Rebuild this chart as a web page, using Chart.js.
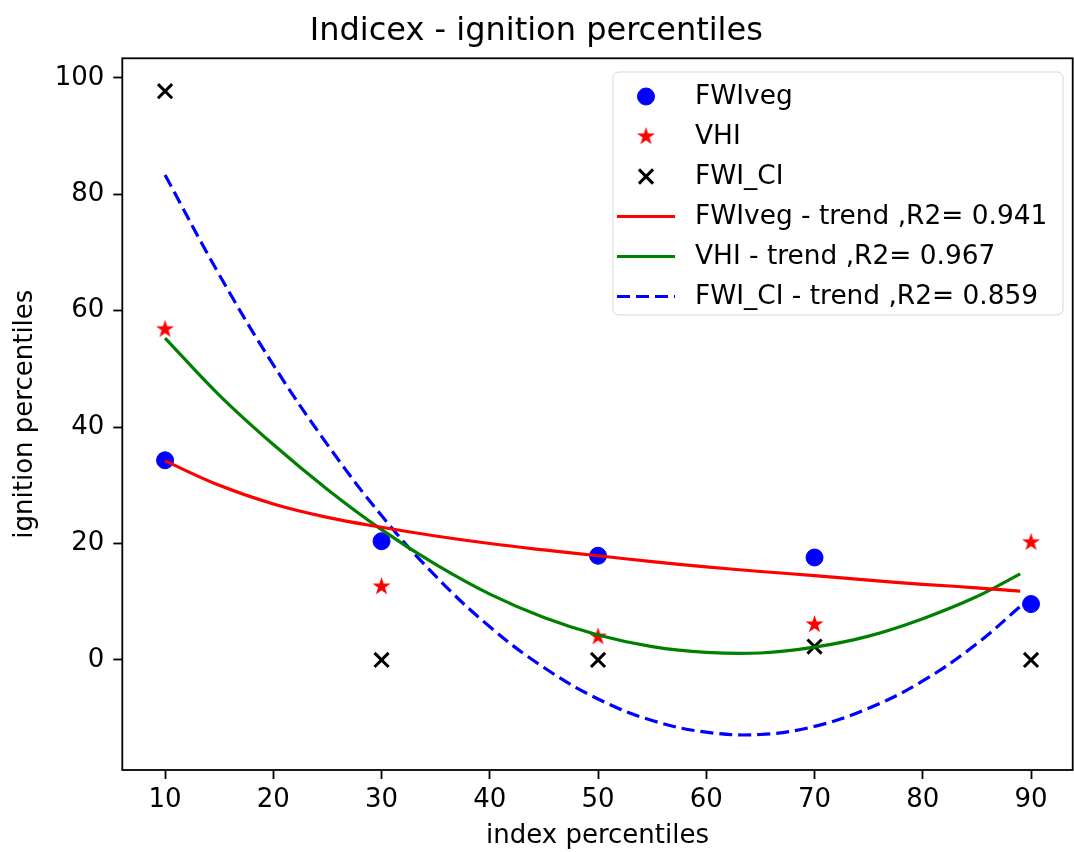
<!DOCTYPE html>
<html lang="en">
<head>
<meta charset="UTF-8">
<title>Indicex - ignition percentiles</title>
<script src="https://cdn.jsdelivr.net/npm/chart.js"></script>
<style>
  html, body { margin: 0; padding: 0; background: #fff; overflow: hidden; }
</style>
</head>
<body>
<canvas id="chart" width="1074" height="852"></canvas>
<script>
// observed values per index percentile class
const xPoints = [10, 30, 50, 70, 90];
const fwivegValues = [34.3, 20.4, 17.9, 17.6, 9.6];
const vhiValues = [56.8, 12.6, 4.0, 6.1, 20.2];
const fwiciValues = [97.7, 0, 0, 2.3, 0];

// trend curves, every 5 units
const xTrend = [10, 15, 20, 25, 30, 35, 40, 45, 50, 55, 60, 65, 70, 75, 80, 85, 89];
const fwivegTrend = [34.2, 30.0, 26.8, 24.5, 22.8, 21.3, 20.0, 18.9, 17.9, 16.9, 16.0, 15.2, 14.5, 13.7, 13.0, 12.4, 11.8];
const vhiTrend = [55.3, 45.5, 37.0, 29.3, 22.4, 16.4, 11.3, 7.3, 4.3, 2.3, 1.3, 1.2, 2.2, 4.1, 7.1, 10.9, 14.8];
const fwiciTrend = [83.3, 66.2, 50.7, 37.0, 24.8, 14.4, 5.7, -1.3, -6.7, -10.4, -12.4, -12.8, -11.4, -8.3, -3.6, 2.8, 9.2];

const xTicks = [10, 20, 30, 40, 50, 60, 70, 80, 90];
const yTicks = [0, 20, 40, 60, 80, 100];

function pairs(xs, ys) {
    return xs.map((x, i) => ({x: x, y: ys[i]}));
}

// filled five-pointed star, like the matplotlib '*' marker
function starImage(color, r) {
    const c = document.createElement('canvas');
    const size = Math.ceil(r * 2 + 4);
    c.width = size;
    c.height = size;
    const g = c.getContext('2d');
    const cx = size / 2, cy = size / 2, inner = r * 0.382;
    g.beginPath();
    for (let k = 0; k < 10; k++) {
        const rad = (k % 2 === 0) ? r : inner;
        const ang = -Math.PI / 2 + k * Math.PI / 5;
        const px = cx + rad * Math.cos(ang), py = cy + rad * Math.sin(ang);
        if (k === 0) g.moveTo(px, py); else g.lineTo(px, py);
    }
    g.closePath();
    g.fillStyle = color;
    g.fill();
    return c;
}

const star = starImage('#ff0000', 9.5);

Chart.defaults.font.family = '"DejaVu Sans", sans-serif';
Chart.defaults.color = '#000';

const frameAndLegend = {
    id: 'frameAndLegend',
    afterDatasetsDraw(chart) {
        const ctx = chart.ctx, a = chart.chartArea;
        ctx.save();
        ctx.strokeStyle = '#000';
        ctx.lineWidth = 1.8;
        ctx.strokeRect(a.left, a.top, a.right - a.left, a.bottom - a.top);

        // legend box, upper right inside the axes
        ctx.beginPath();
        ctx.roundRect(613, 72, 450, 243, 6);
        ctx.fillStyle = 'rgba(255,255,255,0.8)';
        ctx.fill();
        ctx.strokeStyle = 'rgba(204,204,204,0.8)';
        ctx.lineWidth = 1;
        ctx.stroke();

        chart.data.datasets.forEach((ds, i) => {
            const y = 96.5 + i * 40;
            if (ds.type === 'line') {
                ctx.beginPath();
                ctx.setLineDash(ds.borderDash || []);
                ctx.strokeStyle = ds.borderColor;
                ctx.lineWidth = ds.borderWidth;
                ctx.moveTo(617, y);
                ctx.lineTo(675, y);
                ctx.stroke();
                ctx.setLineDash([]);
            } else {
                ctx.fillStyle = ds.backgroundColor || '#000';
                ctx.strokeStyle = ds.borderColor || '#000';
                ctx.lineWidth = ds.borderWidth || 0;
                Chart.helpers.drawPoint(ctx, {
                    pointStyle: ds.pointStyle,
                    radius: ds.pointRadius,
                    borderWidth: ds.borderWidth || 0,
                    rotation: 0
                }, 646, y);
            }
            ctx.fillStyle = '#000';
            ctx.font = '26.4px "DejaVu Sans"';
            ctx.textAlign = 'left';
            ctx.textBaseline = 'middle';
            ctx.fillText(ds.label, 695, y + 0.5);
        });
        ctx.restore();
    }
};

new Chart(document.getElementById('chart'), {
    type: 'scatter',
    data: {
        datasets: [
            {
                label: 'FWIveg',
                data: pairs(xPoints, fwivegValues),
                pointStyle: 'circle',
                pointRadius: 8.5,
                backgroundColor: '#0000ff',
                borderColor: '#0000ff',
                borderWidth: 1,
                order: 1
            },
            {
                label: 'VHI',
                data: pairs(xPoints, vhiValues),
                pointStyle: star,
                pointRadius: 10,
                backgroundColor: '#ff0000',
                borderColor: '#ff0000',
                borderWidth: 0,
                order: 1
            },
            {
                label: 'FWI_CI',
                data: pairs(xPoints, fwiciValues),
                pointStyle: 'crossRot',
                pointRadius: 10,
                backgroundColor: '#000',
                borderColor: '#000',
                borderWidth: 3,
                order: 1
            },
            {
                type: 'line',
                label: 'FWIveg - trend ,R2= 0.941',
                data: pairs(xTrend, fwivegTrend),
                borderColor: '#ff0000',
                borderWidth: 3.2,
                pointRadius: 0,
                fill: false,
                tension: 0.4,
                order: 0
            },
            {
                type: 'line',
                label: 'VHI - trend ,R2= 0.967',
                data: pairs(xTrend, vhiTrend),
                borderColor: '#008000',
                borderWidth: 3.2,
                pointRadius: 0,
                fill: false,
                tension: 0.4,
                order: 0
            },
            {
                type: 'line',
                label: 'FWI_CI - trend ,R2= 0.859',
                data: pairs(xTrend, fwiciTrend),
                borderColor: '#0000ff',
                borderWidth: 3.2,
                borderDash: [13, 6],
                pointRadius: 0,
                fill: false,
                tension: 0.4,
                order: 0
            }
        ]
    },
    options: {
        responsive: false,
        animation: false,
        layout: { autoPadding: false, padding: { left: 0, right: 1.3, top: 0, bottom: 0 } },
        plugins: {
            legend: { display: false },
            tooltip: { enabled: false },
            title: {
                display: true,
                text: 'Indicex - ignition percentiles',
                color: '#000',
                font: { size: 32, weight: 'normal' },
                padding: { top: 12.2, bottom: 7.7 }
            }
        },
        scales: {
            x: {
                type: 'linear',
                min: 6.05,
                max: 93.85,
                afterBuildTicks: s => { s.ticks = xTicks.map(v => ({value: v})); },
                afterFit: s => { s.height = 82; s.paddingLeft = 0; s.paddingRight = 0; },
                ticks: { font: { size: 26 }, color: '#000', padding: 6, maxRotation: 0 },
                grid: { display: true, drawOnChartArea: false, drawTicks: true, tickLength: 9, tickWidth: 1.8, tickColor: '#000' },
                border: { display: false },
                title: { display: true, text: 'index percentiles', color: '#000', font: { size: 26 }, padding: { top: 0, bottom: 0.5 } }
            },
            y: {
                type: 'linear',
                min: -18.9,
                max: 103.35,
                afterBuildTicks: s => { s.ticks = yTicks.map(v => ({value: v})); },
                afterFit: s => { s.width = 122.3; s.paddingTop = 0; s.paddingBottom = 0; },
                ticks: { font: { size: 26 }, color: '#000', padding: 9 },
                grid: { display: true, drawOnChartArea: false, drawTicks: true, tickLength: 9, tickWidth: 1.8, tickColor: '#000' },
                border: { display: false },
                title: { display: true, text: 'ignition percentiles', color: '#000', font: { size: 26 }, padding: { top: 10, bottom: 0 } }
            }
        }
    },
    plugins: [frameAndLegend]
});
</script>
</body>
</html>
